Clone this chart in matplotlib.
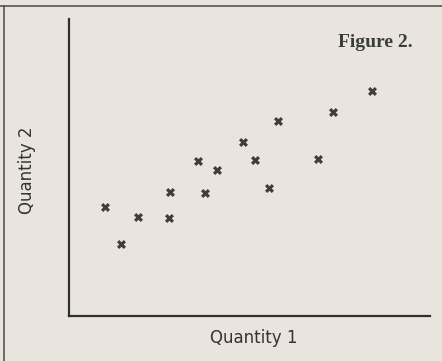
import matplotlib
matplotlib.use("Agg")
import matplotlib.pyplot as plt
from matplotlib.lines import Line2D

# measurements (arbitrary units)
quantity_1 = [1.00, 1.43, 1.91, 2.77, 2.80, 3.57, 3.77, 4.10, 4.82, 5.15, 5.54, 5.79, 6.90, 7.31, 8.39]
quantity_2 = [2.94, 1.94, 2.67, 2.64, 3.34, 4.18, 3.32, 3.94, 4.69, 4.20, 3.45, 5.26, 4.23, 5.50, 6.06]

x_label = "Quantity 1"
y_label = "Quantity 2"
title = "Figure 2."

paper = "#e9e4de"
ink = "#2f2f2f"

fig = plt.figure(figsize=(4.42, 3.61), dpi=100, facecolor=paper)
ax = fig.add_axes([0.156, 0.125, 0.817, 0.823], facecolor=paper)

ax.scatter(quantity_1, quantity_2, marker="X", s=42, color="#3d3d3d", linewidths=0)

ax.set_xlim(0, 10)
ax.set_ylim(0, 8)
ax.set_xticks([])
ax.set_yticks([])
for side in ("top", "right"):
    ax.spines[side].set_visible(False)
for side in ("left", "bottom"):
    ax.spines[side].set_linewidth(1.6)
    ax.spines[side].set_color(ink)

# outer frame of the figure box
fig.add_artist(Line2D([0.0, 1.0], [0.983, 0.983], transform=fig.transFigure, color="#4a4a4a", lw=1.1))
fig.add_artist(Line2D([0.009, 0.009], [0.0, 0.983], transform=fig.transFigure, color="#4a4a4a", lw=1.1))

fig.text(0.575, 0.064, x_label, ha="center", va="center", fontsize=12, color="#333333")
fig.text(0.061, 0.529, y_label, ha="center", va="center", rotation=90, fontsize=12, color="#333333")
fig.text(0.849, 0.881, title, ha="center", va="center", fontsize=14, fontweight="bold",
         family="Liberation Serif", color="#3a3f35")

fig.savefig("out.png", dpi=100, facecolor=paper)
